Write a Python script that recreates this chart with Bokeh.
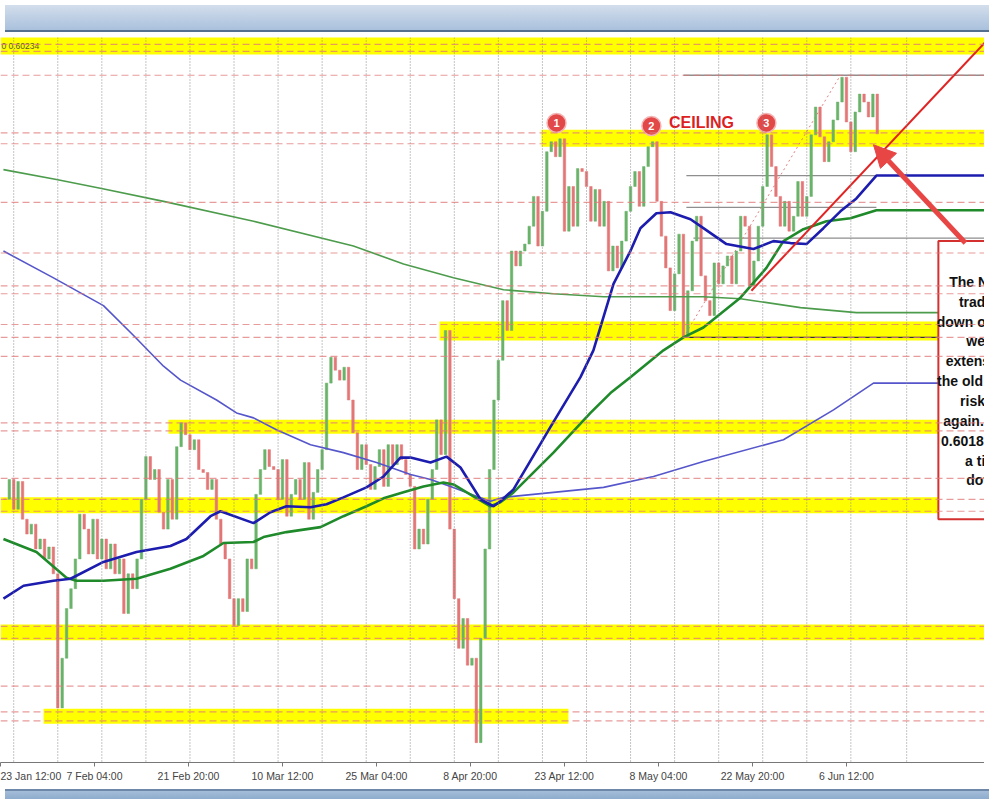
import numpy as np
from bokeh.plotting import figure
from bokeh.models import Range1d, FixedTicker, Div, Arrow, NormalHead, Span
from bokeh.layouts import column
from bokeh.embed import file_html
from bokeh.resources import INLINE
from bokeh.core.properties import value

# ---------------- data (H4 bars, price) ----------------
bar_step = 3
first_open = 0.5700
closes = [0.56997, 0.57177, 0.56907, 0.57159, 0.56817, 0.56682, 0.56772, 0.56547, 0.56637, 0.56457,
          0.56565, 0.56322, 0.55107, 0.55557, 0.56007, 0.56187, 0.56457, 0.56862, 0.56727, 0.56502,
          0.56817, 0.56457, 0.56637, 0.56367, 0.56592, 0.56322, 0.56457, 0.55962, 0.56322, 0.56187,
          0.56457, 0.56997, 0.57384, 0.57177, 0.57267, 0.56880, 0.56727, 0.57177, 0.56817, 0.57474,
          0.57690, 0.57582, 0.57447, 0.57537, 0.57267, 0.57240, 0.57087, 0.57177, 0.56817, 0.56592,
          0.56457, 0.56097, 0.55854, 0.56097, 0.55980, 0.56457, 0.56367, 0.57042, 0.57267, 0.57447,
          0.57294, 0.57267, 0.56997, 0.57357, 0.56844, 0.57042, 0.57177, 0.56997, 0.57330, 0.56817,
          0.57060, 0.57267, 0.57447, 0.58050, 0.58284, 0.58167, 0.58077, 0.58194, 0.57897, 0.57600,
          0.57267, 0.57492, 0.57312, 0.57087, 0.57294, 0.57447, 0.57114, 0.57492, 0.57312, 0.57492,
          0.57357, 0.57222, 0.57114, 0.56547, 0.56727, 0.56592, 0.56997, 0.57267, 0.57717, 0.57402,
          0.58527, 0.56727, 0.56097, 0.55647, 0.55917, 0.55494, 0.55557, 0.54792, 0.55737, 0.56547,
          0.57267, 0.57897, 0.58257, 0.58797, 0.58527, 0.59247, 0.59112, 0.59247, 0.59310, 0.59472,
          0.59742, 0.59292, 0.59607, 0.60147, 0.60237, 0.60102, 0.60264, 0.59427, 0.59832, 0.59472,
          0.59994, 0.59967, 0.59832, 0.59517, 0.59805, 0.59472, 0.59697, 0.59067, 0.59292, 0.59094,
          0.59337, 0.59607, 0.59832, 0.59967, 0.59652, 0.60012, 0.60192, 0.60237, 0.59697, 0.59382,
          0.59094, 0.58707, 0.59040, 0.59400, 0.58464, 0.58887, 0.59337, 0.59562, 0.59022, 0.58797,
          0.58662, 0.59139, 0.58950, 0.59112, 0.59202, 0.58950, 0.59247, 0.59562, 0.59472, 0.58932,
          0.59157, 0.59472, 0.59832, 0.60300, 0.60012, 0.59742, 0.59472, 0.59697, 0.59427, 0.59562,
          0.59877, 0.59562, 0.59742, 0.60300, 0.60552, 0.60282, 0.60057, 0.60237, 0.60435, 0.60597,
          0.60822, 0.60417, 0.60147, 0.60507, 0.60669, 0.60597, 0.60462, 0.60669, 0.60309]

# 100-bar MA (thick blue)
ma100_bars = [2.0, 15.7, 36.1, 47.7, 70.1, 92.6, 115.7, 126.6, 143.0, 149.8, 172.3, 183.8, 194.7, 211.1,
              222.0, 233.5, 249.2, 260.8, 272.3, 279.2, 292.8, 303.7, 313.2, 326.8, 335.7, 340.4, 349.3,
              374.5, 394.9, 403.7, 417.4, 428.9, 435.7, 446.6, 456.2, 469.8, 478.6, 494.3, 512.7, 526.3,
              537.9, 548.8, 560.3, 571.9, 582.8, 596.4, 683.0]
ma100_vals = [0.56097, 0.56214, 0.56259, 0.56277, 0.56430, 0.56520, 0.56574, 0.56637, 0.56844, 0.56889,
              0.56781, 0.56880, 0.56934, 0.56925, 0.56952, 0.57015, 0.57105, 0.57204, 0.57375, 0.57375,
              0.57330, 0.57384, 0.57285, 0.56997, 0.56934, 0.56979, 0.57087, 0.57654, 0.58104, 0.58347,
              0.58950, 0.59247, 0.59454, 0.59589, 0.59598, 0.59535, 0.59454, 0.59310, 0.59265, 0.59337,
              0.59319, 0.59310, 0.59454, 0.59607, 0.59724, 0.59931, 0.59931]

# 200-bar MA (thick green)
ma200_bars = [2.0, 24.5, 44.9, 51.7, 70.1, 92.6, 115.7, 138.2, 151.8, 172.3, 179.1, 194.7, 217.9, 233.5,
              249.2, 260.8, 274.4, 288.0, 301.6, 308.4, 322.0, 333.6, 340.4, 349.3, 376.5, 401.7, 415.3,
              428.9, 451.4, 465.0, 478.6, 503.8, 521.5, 533.1, 546.7, 562.4, 578.7, 596.4, 683.0]
ma200_vals = [0.56637, 0.56520, 0.56286, 0.56259, 0.56259, 0.56277, 0.56367, 0.56484, 0.56601, 0.56610,
              0.56655, 0.56700, 0.56745, 0.56844, 0.56934, 0.57006, 0.57060, 0.57114, 0.57150, 0.57132,
              0.57024, 0.56934, 0.56970, 0.57060, 0.57420, 0.57780, 0.57960, 0.58104, 0.58347, 0.58464,
              0.58554, 0.58824, 0.59094, 0.59337, 0.59445, 0.59517, 0.59544, 0.59616, 0.59616]

# daily MA (thin green)
dma_g_bars = [2.0, 38.1, 68.8, 111.0, 172.3, 240.3, 274.4, 308.4, 342.5, 376.5, 410.6, 478.6, 503.8,
              544.7, 582.8, 683.0]
dma_g_vals = [0.59985, 0.59895, 0.59814, 0.59697, 0.59517, 0.59292, 0.59130, 0.59004, 0.58896, 0.58860,
              0.58833, 0.58833, 0.58815, 0.58734, 0.58689, 0.58689]

# daily MA (thin blue, stepped)
dma_b_bars = [2.0, 36.1, 70.1, 90.6, 111.0, 122.6, 147.1, 160.7, 172.3, 187.9, 211.1, 233.5, 256.0,
              269.6, 279.2, 292.8, 306.4, 324.1, 333.6, 342.5, 376.5, 410.6, 444.6, 478.6, 533.1, 567.2,
              594.4, 683.0]
dma_b_vals = [0.59247, 0.59004, 0.58752, 0.58482, 0.58203, 0.58077, 0.57897, 0.57780, 0.57735, 0.57627,
              0.57492, 0.57420, 0.57330, 0.57267, 0.57222, 0.57177, 0.57114, 0.57024, 0.56979, 0.57015,
              0.57060, 0.57105, 0.57204, 0.57339, 0.57537, 0.57807, 0.58050, 0.58050]

# yellow support/resistance zones
zone_low = [0.61029, 0.60192, 0.58437, 0.57591, 0.56871, 0.55719, 0.54963]
zone_high = [0.61250, 0.60345, 0.58608, 0.57717, 0.57015, 0.55863, 0.55098]
zone_from = [0.0, 368.3, 298.9, 114.4, 0.0, 0.0, 29.3]
zone_to = [683.0, 683.0, 683.0, 683.0, 683.0, 683.0, 386.7]

# dashed horizontal levels
dash_levels = [0.61119, 0.61056, 0.60840, 0.60318, 0.60219, 0.59688, 0.59229, 0.58932, 0.58860,
               0.58581, 0.58464, 0.58293, 0.57690, 0.57618, 0.57186, 0.56997, 0.56889, 0.55845,
               0.55737, 0.55305, 0.55071, 0.54990]

# Fibonacci retracement of the May low -> June high
fib_low_bar, fib_low = 465.0, 0.58464
fib_high_bar, fib_high = 571.9, 0.60840
fib_levels = [0.60840, 0.59931, 0.59643, 0.59364, 0.58464]
fib_from = [465.0, 467.0, 467.0, 471.8, 465.0]
fib_to = [683.0, 596.4, 596.4, 683.0, 638.6]
fib_colors = ["#8e8e8e", "#8e8e8e", "#8e8e8e", "#8e8e8e", "#333333"]

# trend line
trend_bars = [511.3, 683.0]
trend_vals = [0.58887, 0.61317]

# ceiling touches
touch_bars = [378.6, 443.2, 521.5]
touch_vals = [0.60408, 0.60381, 0.60408]
touch_labels = ["1", "2", "3"]

# axis labels
tick_bars = [0, 64, 128, 192, 256, 320, 384, 448, 512, 576]
tick_labels = ["23 Jan 12:00", "7 Feb 04:00", "21 Feb 20:00", "10 Mar 12:00", "25 Mar 04:00",
               "8 Apr 20:00", "23 Apr 12:00", "8 May 04:00", "22 May 20:00", "6 Jun 12:00"]
vgrid_bars = [9, 39, 69, 99, 129, 159, 189, 219, 249, 279, 309, 339, 369, 399, 429, 459, 489,
              519, 549, 579, 617]

note_lines = ["The NZDUSD is", "trading back", "down over the past", "week after",
              "extension above", "the old ceiling. The", "risk is lower", "again.  Below the",
              "0.6018 would give", "a tilt to the", "downside."]

# ---------------- figure ----------------
X0, X1 = 0.0, 670.0
Y0, Y1 = 0.54612, 0.61182

p = figure(width=984, height=747, x_range=Range1d(X0, X1), y_range=Range1d(Y0, Y1),
           output_backend="svg", toolbar_location=None, y_axis_location=None,
           background_fill_color="white", border_fill_color="white")
p.min_border_left = 0
p.min_border_right = 0
p.min_border_top = 0
p.min_border_bottom = 0
p.outline_line_color = None
p.xgrid.visible = False
p.ygrid.visible = False

ax = p.xaxis[0]
ax.ticker = FixedTicker(ticks=tick_bars)
ax.major_label_overrides = {b: lab for b, lab in zip(tick_bars, tick_labels)}
ax.major_label_text_align = "left"
ax.major_label_text_font = "Liberation Sans"
ax.major_label_text_font_size = "10.5px"
ax.major_label_text_color = "#444444"
ax.major_label_standoff = 3
ax.axis_line_color = "#777777"
ax.major_tick_line_color = "#777777"
ax.major_tick_in = 0
ax.major_tick_out = 4
ax.minor_tick_line_color = None

# yellow zones
p.quad(left=zone_from, right=zone_to, bottom=zone_low, top=zone_high,
       fill_color="#ffff00", line_color=None)

# vertical dotted grid
for b in vgrid_bars:
    p.add_layout(Span(location=b, dimension="height", line_color="#8a8a8a",
                      line_dash="1 2", line_width=1))

# dashed levels
for lv in dash_levels:
    p.add_layout(Span(location=lv, dimension="width", line_color="#e07a7a",
                      line_alpha=0.75, line_dash="7 4", line_width=1.2))

# fib levels and diagonal
p.segment(x0=fib_from, x1=fib_to, y0=fib_levels, y1=fib_levels,
          line_color=fib_colors, line_width=1.3)
p.line([fib_low_bar, fib_high_bar], [fib_low, fib_high], line_color="#e08080",
       line_dash="2 3", line_width=1)

# candles
c = np.array(closes)
o = np.r_[first_open, c[:-1]]
xs = bar_step * (np.arange(len(c)) + 1)
up = c >= o
cols = np.where(up, "#6ab36a", "#e37777")
p.vbar(x=xs, width=1.7, top=np.maximum(o, c), bottom=np.minimum(o, c),
       fill_color=cols, line_color=cols, line_width=0.5)

# moving averages
p.line(dma_g_bars, dma_g_vals, line_color="#4c9c4c", line_width=1.6)
p.line(dma_b_bars, dma_b_vals, line_color="#5656cc", line_width=1.6)
p.line(ma200_bars, ma200_vals, line_color="#1f8a2a", line_width=2.6)
p.line(ma100_bars, ma100_vals, line_color="#1c1cae", line_width=2.6)

# trend line
p.line(trend_bars, trend_vals, line_color="#e02424", line_width=2)

# ceiling touches
p.scatter(touch_bars, touch_vals, marker="circle", size=19, fill_color="#e24848",
          line_color="#f4b4b4", line_width=1.5)
p.text(touch_bars, touch_vals, text=touch_labels, text_color="white",
       text_font=value("Liberation Sans"), text_font_style="bold", text_font_size="11px",
       text_align="center", text_baseline="middle")
p.text([477.3], [0.60408], text=["CEILING"], text_color="#dd1f1f",
       text_font=value("Liberation Sans"),
       text_font_style="bold", text_font_size="16px", text_align="center", text_baseline="middle")

# label of top line
p.text([0.6], [0.61101], text=["0 0.60234"], text_color="#5a5a2a",
       text_font=value("Liberation Sans"), text_font_size="8.5px",
       text_align="left", text_baseline="middle")

# big arrow
p.add_layout(Arrow(end=NormalHead(size=22, fill_color="#e84545", line_color="#e84545"),
                   x_start=657.0, y_start=0.59319, x_end=594.4, y_end=0.60210,
                   line_color="#e84545", line_width=5))

# note box
box_left, box_right, box_top, box_bottom = 638.6, 742.0, 0.59337, 0.56817
p.quad(left=[box_left], right=[box_right], top=[box_top], bottom=[box_bottom],
       fill_color="white", line_color="#d43030", line_width=2)
note_x = 680.9
line_y0, line_dy = 0.58968, 0.0018
note_y = [line_y0 - i * line_dy for i in range(len(note_lines))]
p.text([note_x] * len(note_lines), note_y, text=note_lines, text_color="#111111",
       text_font=value("Liberation Sans"), text_font_style="bold", text_font_size="14px",
       text_align="center", text_baseline="middle")

# ---------------- frame bars (terminal window) ----------------
top_bar = Div(text="", width=984, height=27,
              styles={"background": "linear-gradient(#d3deec, #a6bedb)",
                      "box-shadow": "inset 0 -2px 0 #55708f"})
bottom_bar = Div(text="", width=984, height=10,
                 styles={"background": "linear-gradient(#a9c1dc, #8eaccd)",
                         "box-shadow": "inset 0 2px 0 #6d88a8"})

layout = column(top_bar, p, bottom_bar, spacing=0)

open("out.html", "w").write(file_html(layout, INLINE))
